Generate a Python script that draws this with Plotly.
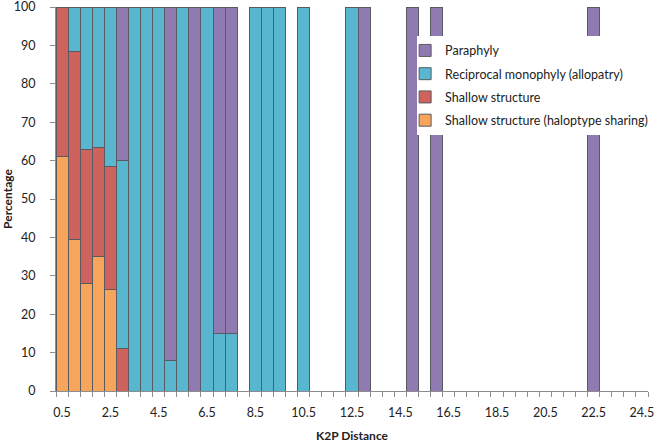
import plotly.graph_objects as go

# K2P distance categories (0.5 .. 24.5, step 0.5)
distancias = [0.5, 1.0, 1.5, 2.0, 2.5, 3.0, 3.5, 4.0, 4.5, 5.0, 5.5, 6.0, 6.5, 7.0, 7.5,
              8.0, 8.5, 9.0, 9.5, 10.0, 10.5, 11.0, 11.5, 12.0, 12.5, 13.0, 13.5, 14.0,
              14.5, 15.0, 15.5, 16.0, 16.5, 17.0, 17.5, 18.0, 18.5, 19.0, 19.5, 20.0,
              20.5, 21.0, 21.5, 22.0, 22.5, 23.0, 23.5, 24.0, 24.5]

# percentages per category (0 where no bar)
haplotipo = {0.5: 61, 1.0: 39.5, 1.5: 28, 2.0: 35, 2.5: 26.5}
rasa = {0.5: 39, 1.0: 49, 1.5: 35, 2.0: 28.5, 2.5: 32, 3.0: 11}
reciproca = {1.0: 11.5, 1.5: 37, 2.0: 36.5, 2.5: 41.5, 3.0: 49, 3.5: 100, 4.0: 100,
             4.5: 100, 5.0: 8, 5.5: 100, 6.5: 100, 7.0: 15, 7.5: 15, 8.5: 100,
             9.0: 100, 9.5: 100, 10.5: 100, 12.5: 100}
parafilia = {3.0: 40, 5.0: 92, 6.0: 100, 7.0: 85, 7.5: 85, 13.0: 100, 15.0: 100,
             16.0: 100, 22.5: 100}

# bottom of the stack first; legend lists them top-down
series = [
    ('Shallow structure (haloptype sharing)', haplotipo, '#F7A55B'),
    ('Shallow structure', rasa, '#CD635C'),
    ('Reciprocal monophyly (allopatry)', reciproca, '#58B6CE'),
    ('Paraphyly', parafilia, '#8F7AB2'),
]

fig = go.Figure()
for i, (nome, valores, cor) in enumerate(series):
    fig.add_trace(go.Bar(
        x=distancias,
        y=[valores.get(d, 0) for d in distancias],
        name=nome,
        legendgroup=nome,
        legendrank=1000 - i,
        width=0.5,
        marker=dict(color=cor, line=dict(color='#5A5A62', width=1)),
    ))

fonte = 'Lato, Carlito, sans-serif'
fig.update_layout(
    barmode='stack',
    width=662, height=446,
    margin=dict(l=56, r=14, t=7, b=55, autoexpand=False),
    plot_bgcolor='white', paper_bgcolor='white',
    font=dict(family=fonte, size=12, color='#222'),
    legend=dict(x=0.61, y=0.925, xanchor='left', yanchor='top',
                bgcolor='white', traceorder='grouped', tracegroupgap=4,
                indentation=-12,
                font=dict(size=12.5, color='#222')),
    showlegend=True,
)
fig.update_xaxes(
    range=[0.25, 24.75], automargin=False,
    tickvals=[0.5 + 2 * i for i in range(13)],
    ticktext=['%.1f' % (0.5 + 2 * i) for i in range(13)],
    ticks='', showline=True, linecolor='#8C8C8C', linewidth=1,
    minor=dict(ticks='outside', tick0=0.25, dtick=0.5, ticklen=5, tickcolor='#8C8C8C'),
    ticklabelstandoff=10, ticklabeloverflow='allow',
    tickfont=dict(size=12.5),
    showgrid=False, zeroline=False,
    title=dict(text='<b>K2P Distance</b>', standoff=12, font=dict(size=12)),
)
fig.update_yaxes(
    range=[0, 100], dtick=10, automargin=False,
    ticks='outside', ticklen=5, tickcolor='#8C8C8C',
    showline=True, linecolor='#8C8C8C', linewidth=1,
    ticklabelstandoff=12, ticklabeloverflow='allow',
    tickfont=dict(size=12.5),
    showgrid=False, zeroline=False,
    title=dict(text='<b>Percentage</b>', standoff=0, font=dict(size=12)),
)

fig.write_html("out.html", config={'displayModeBar': False},
               post_script="document.body.style.margin='0';")
